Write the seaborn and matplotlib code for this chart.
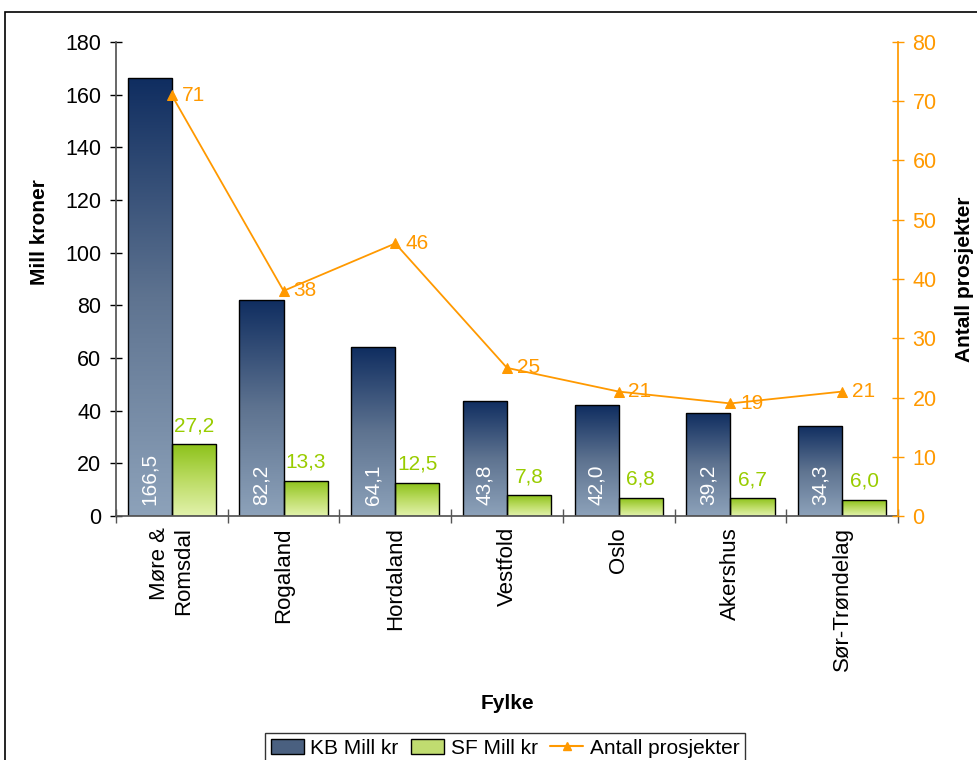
import numpy as np
import pandas as pd
import matplotlib
matplotlib.use('Agg')
import matplotlib.pyplot as plt
import seaborn as sns
from matplotlib.patches import Patch, Rectangle
from matplotlib.lines import Line2D
from matplotlib.colors import LinearSegmentedColormap

fylker = ["Møre &\nRomsdal", "Rogaland", "Hordaland", "Vestfold", "Oslo", "Akershus", "Sør-Trøndelag"]
kb_mill = [166.5, 82.2, 64.1, 43.8, 42.0, 39.2, 34.3]
sf_mill = [27.2, 13.3, 12.5, 7.8, 6.8, 6.7, 6.0]
antall = [71, 38, 46, 25, 21, 19, 21]

orange = "#ff9900"
green = "#99cc00"

df = pd.DataFrame({
    "Fylke": fylker * 2,
    "verdi": kb_mill + sf_mill,
    "serie": ["KB Mill kr"] * 7 + ["SF Mill kr"] * 7,
})

sns.set_theme(style="white")
plt.rcParams['font.family'] = ['Liberation Sans', 'DejaVu Sans']
plt.rcParams['text.color'] = 'black'
plt.rcParams['axes.labelcolor'] = 'black'
plt.rcParams['xtick.color'] = 'black'
plt.rcParams['ytick.color'] = 'black'

fig = plt.figure(figsize=(9.78, 7.6), dpi=100)
ax = fig.add_axes([116 / 978, 1 - 516 / 760, (898 - 116) / 978, (516 - 42) / 760])

sns.barplot(data=df, x="Fylke", y="verdi", hue="serie", ax=ax, width=0.79,
            palette=["#4a6080", "#c0dc70"], edgecolor="black", linewidth=1.0,
            legend=False, saturation=1)

# gradient fills
kb_cmap = LinearSegmentedColormap.from_list("kb", ["#8da2ba", "#5e7390", "#0f2d60"])
sf_cmap = LinearSegmentedColormap.from_list("sf", ["#e2f2ac", "#bcdc64", "#8dc21a"])
grad = np.linspace(0, 1, 256).reshape(-1, 1)
for i, bar in enumerate(ax.patches[:14]):
    x0, y0 = bar.get_x(), bar.get_y()
    w, h = bar.get_width(), bar.get_height()
    cmap = kb_cmap if i < 7 else sf_cmap
    im = ax.imshow(grad, cmap=cmap, origin="lower", aspect="auto",
                   extent=[x0, x0 + w, y0, y0 + h], zorder=bar.get_zorder())
    im.set_clip_path(bar)
    bar.set_facecolor("none")
    bar.set_zorder(bar.get_zorder() + 0.5)
ax.set_xlim(-0.5, 6.5)
ax.set_ylim(0, 180)

# value labels
for i in range(7):
    kb_bar = ax.patches[i]
    sf_bar = ax.patches[i + 7]
    ax.text(kb_bar.get_x() + kb_bar.get_width() / 2, 4, f"{kb_mill[i]:.1f}".replace(".", ","),
            rotation=90, ha="center", va="bottom", color="white", fontsize=15, zorder=5)
    ax.text(sf_bar.get_x() + sf_bar.get_width() / 2, sf_mill[i] + 3.5, f"{sf_mill[i]:.1f}".replace(".", ","),
            ha="center", va="bottom", color=green, fontsize=15, zorder=5)

ax.set_xlabel("Fylke", fontsize=15, fontweight="bold")
ax.xaxis.set_label_coords(0.5, -0.375)
ax.set_ylabel("Mill kroner", fontsize=15, fontweight="bold")
ax.yaxis.set_label_coords(-0.086, 0.6)
ax.set_yticks(range(0, 181, 20))
ax.tick_params(axis="y", direction="inout", length=9, width=1, color="black", labelsize=15.5, left=True, pad=6)
ax.set_xticks(range(7))
ax.set_xticklabels(fylker, rotation=90, ha="center", va="top", multialignment="right", fontsize=16)
ax.tick_params(axis="x", length=0, pad=8)
ax.set_xticks(np.arange(-0.5, 7, 1), minor=True)
ax.tick_params(axis="x", which="minor", direction="inout", length=10, width=1, color="#555555", bottom=True)
ax.spines["top"].set_visible(False)
ax.spines["right"].set_visible(False)
ax.spines["left"].set_color("#555555")
ax.spines["bottom"].set_color("#555555")

# line on second axis
ax2 = ax.twinx()
sns.lineplot(x=np.arange(7), y=antall, ax=ax2, color=orange, marker="^", markersize=7,
             markeredgecolor=orange, linewidth=1.3)
for i, v in enumerate(antall):
    ax2.annotate(str(v), (i, v), xytext=(7, 0), textcoords="offset points",
                 ha="left", va="center", color=orange, fontsize=15)
ax2.set_ylim(0, 80)
ax2.set_yticks(range(0, 81, 10))
ax2.tick_params(axis="y", direction="inout", length=9, width=1, color=orange, labelcolor=orange,
                labelsize=15.5, right=True, pad=6)
ax2.set_ylabel("Antall prosjekter", fontsize=15, fontweight="bold", rotation=90)
ax2.yaxis.set_label_coords(1.073, 0.5)
for s in ["top", "left", "bottom"]:
    ax2.spines[s].set_visible(False)
ax2.spines["right"].set_color(orange)
ax2.spines["right"].set_visible(True)
ax2.set_xlim(-0.5, 6.5)

# legend
handles = [
    Patch(facecolor="#4a6080", edgecolor="black", label="KB Mill kr"),
    Patch(facecolor="#c0dc70", edgecolor="black", label="SF Mill kr"),
    Line2D([0], [0], color=orange, marker="^", markersize=6, label="Antall prosjekter"),
]
leg = fig.legend(handles=handles, loc="center", bbox_to_anchor=(505 / 978, 1 - 748 / 760), ncol=3,
                 frameon=True, fontsize=15, handlelength=1.6, handletextpad=0.3, columnspacing=0.6,
                 borderpad=0.25, fancybox=False)
leg.get_frame().set_edgecolor("black")
leg.get_frame().set_linewidth(1)

# outer chart border
fig.patches.append(Rectangle((5 / 978, -0.05), 1.1, 1 - 12 / 760 + 0.05, transform=fig.transFigure,
                             fill=False, edgecolor="black", linewidth=1.2, zorder=0))

fig.savefig("out.png", dpi=100)
